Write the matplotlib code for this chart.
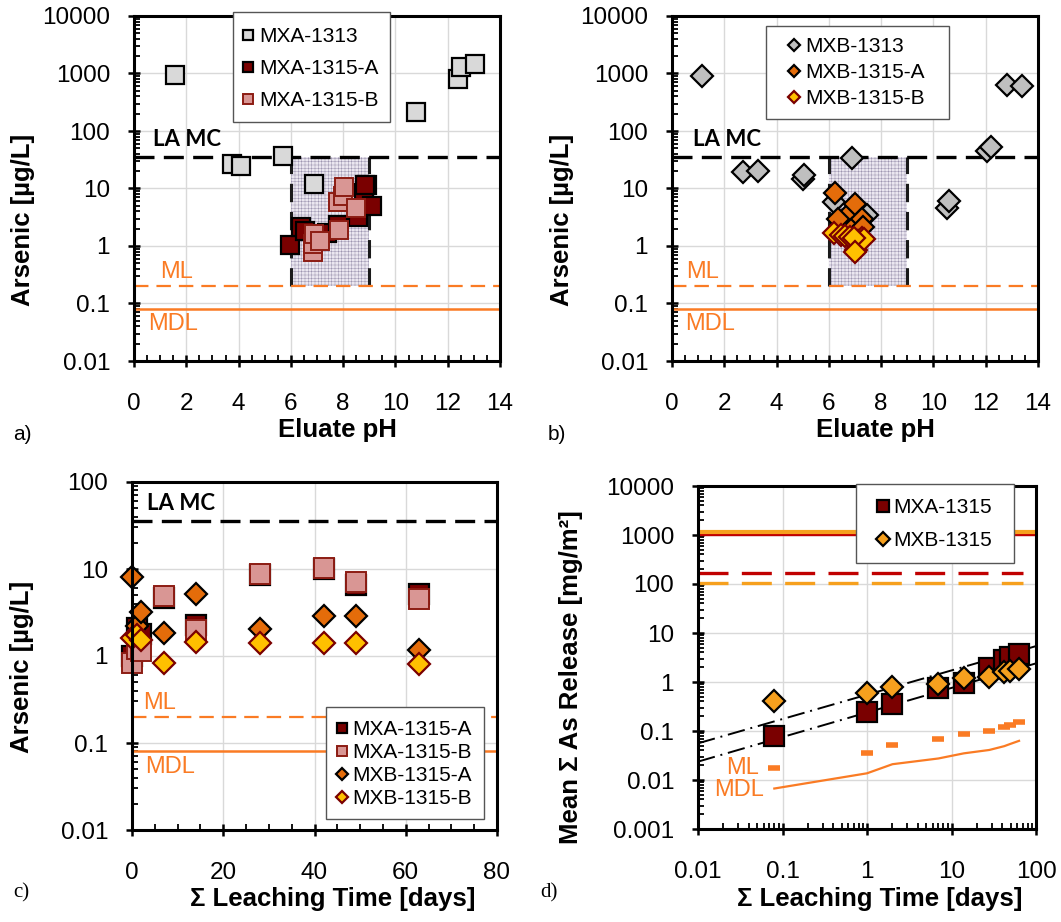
import matplotlib
matplotlib.use("Agg")
import matplotlib.pyplot as plt
import numpy as np
from matplotlib.patches import Rectangle
from matplotlib.ticker import LogLocator, MultipleLocator, FuncFormatter, NullFormatter

plt.rcParams['font.family'] = ['Liberation Sans', 'DejaVu Sans']
plt.rcParams['hatch.linewidth'] = 0.35

# ---------------- data ----------------
# a) MXA: eluate pH vs arsenic (LEAF 1313 and 1315)
mxa1313_ph = [1.55, 3.75, 4.1, 5.7, 6.9, 8.9, 10.8, 12.4, 12.5, 13.05]
mxa1313_as = [950, 27, 25, 37, 12, 11.5, 215, 790, 1300, 1450]
mxa1315a_ph = [5.95, 6.4, 6.55, 7.4, 7.8, 8.55, 8.8, 8.85, 9.1]
mxa1315a_as = [1.05, 2.1, 1.8, 1.7, 2.3, 3.2, 8.5, 11.5, 5.0]
mxa1315b_ph = [6.85, 6.85, 6.9, 7.1, 7.85, 7.8, 8.0, 8.05, 8.5]
mxa1315b_as = [0.8, 1.1, 1.6, 1.2, 1.9, 5.9, 7.3, 10.5, 4.5]

# b) MXB: eluate pH vs arsenic
mxb1313_ph = [1.15, 2.7, 3.3, 5.0, 5.05, 6.2, 6.9, 7.45, 10.5, 10.6, 12.05, 12.2, 12.8, 13.4]
mxb1313_as = [900, 19, 20.5, 14.5, 17.5, 5.8, 34, 3.5, 4.5, 6.0, 45, 52, 630, 610]
mxb1315a_ph = [6.25, 6.45, 6.7, 6.35, 7.0, 6.9, 7.25, 7.3, 7.1]
mxb1315a_as = [8.3, 2.2, 3.3, 2.9, 5.4, 2.0, 3.0, 2.1, 1.2]
mxb1315b_ph = [6.2, 6.45, 6.6, 7.05, 6.8, 7.25, 7.35, 6.95, 7.0]
mxb1315b_as = [1.65, 1.55, 1.5, 0.85, 1.45, 1.4, 1.3, 1.4, 0.8]

# c) arsenic vs cumulative leaching time (LEAF 1315)
leach_days = [0.08, 1, 2, 7, 14, 28, 42, 49, 63]
c_mxa_a = [1.0, 2.1, 1.8, 4.6, 2.3, 8.6, 10.0, 6.6, 5.2]
c_mxa_b = [0.82, 1.2, 1.15, 4.9, 2.0, 8.8, 10.2, 7.1, 4.5]
c_mxb_a = [8.1, 2.2, 3.2, 1.85, 5.1, 2.04, 2.9, 2.9, 1.17]
c_mxb_b = [1.6, 1.75, 1.53, 0.84, 1.46, 1.40, 1.40, 1.40, 0.81]

# d) mean cumulative release [mg/m2]
d_mxa = [0.08, 0.24, 0.36, 0.74, 0.94, 1.9, 2.8, 3.2, 3.7]
d_mxb = [0.41, 0.6, 0.8, 0.91, 1.19, 1.28, 1.6, 1.7, 1.8]
d_ml = [0.0174, 0.035, 0.052, 0.068, 0.086, 0.10, 0.122, 0.135, 0.153]
d_mdl = [0.0067, 0.0137, 0.021, 0.0275, 0.035, 0.041, 0.049, 0.054, 0.063]
# total available content (solid) and 1313 maximum release (dashed)
d_avail_mxa, d_avail_mxb = 1030, 1150
d_max_mxa, d_max_mxb = 165, 105
# power-law trend lines (endpoints at 0.01 and 100 days)
trend_days = [0.01, 100]
trend_mxb = [0.056, 5.4]
trend_mxa = [0.0237, 2.4]

# regulatory / analytical limits [ug/L]
LA_MC = 36
ML = 0.2
MDL = 0.08

# ---------------- styling ----------------
C_GRAY_A = '#d9d9d9'
C_GRAY_B = '#bfbfbf'
C_DRED = '#7a0000'
C_PINK = '#d99694'
C_PINK_EDGE = '#8c1c13'
C_ORANGE = '#e46c0a'
C_YELLOW = '#ffc000'
C_LIMIT = '#fa7b24'
C_D_ORANGE = '#f6a01e'
C_D_RED = '#c00000'

TICK_FS = 17.5
LABEL_FS = 18.5
LEG_FS = 15

W, H = 1061, 922
fig = plt.figure(figsize=(W / 100, H / 100), dpi=100)


def px_axes(l, t, r, b):
    return fig.add_axes([l / W, 1 - b / H, (r - l) / W, (b - t) / H])


ax_a = px_axes(134, 16, 500, 361)
ax_b = px_axes(672, 16, 1038, 361)
ax_c = px_axes(132, 482, 497, 830)
ax_d = px_axes(698, 486, 1036, 829)

plain = FuncFormatter(lambda v, p: f"{v:g}")


def style(ax, xlog=False):
    ax.set_yscale('log')
    if xlog:
        ax.set_xscale('log')
    for s in ax.spines.values():
        s.set_linewidth(2.2)
        s.set_color('black')
        s.set_zorder(6)
    ax.yaxis.set_major_locator(LogLocator(base=10, numticks=20))
    ax.yaxis.set_minor_locator(LogLocator(base=10, subs=np.arange(2, 10), numticks=100))
    ax.yaxis.set_major_formatter(plain)
    ax.yaxis.set_minor_formatter(NullFormatter())
    if xlog:
        ax.xaxis.set_major_locator(LogLocator(base=10, numticks=20))
        ax.xaxis.set_minor_locator(LogLocator(base=10, subs=np.arange(2, 10), numticks=100))
        ax.xaxis.set_major_formatter(plain)
        ax.xaxis.set_minor_formatter(NullFormatter())
    ax.tick_params(which='major', direction='inout', length=8.5, width=1.8, labelsize=TICK_FS)
    ax.tick_params(which='minor', direction='in', length=4, width=1.3)
    ax.tick_params(axis='x', which='major', pad=18.5)
    ax.tick_params(axis='y', which='major', pad=13)
    ax.grid(True, which='major', color='#d9d9d9', lw=1.0)
    ax.set_axisbelow(True)


def limit_lines(ax, xfrac_mc, xfrac_ml, xfrac_mdl):
    ax.axhline(LA_MC, color='black', lw=2.4, ls=(0, (6.0, 2.8)), zorder=2)
    ax.axhline(ML, color=C_LIMIT, lw=1.6, ls=(0, (6.5, 3.6)), zorder=2)
    ax.axhline(MDL, color=C_LIMIT, lw=1.8, zorder=2)
    ax.annotate('LA MC', xy=(xfrac_mc, LA_MC), xycoords=('axes fraction', 'data'),
                xytext=(0, 5), textcoords='offset points', va='bottom', ha='left',
                fontsize=16, fontweight='bold', family=['Lato', 'DejaVu Sans'])
    ax.annotate('ML', xy=(xfrac_ml, ML), xycoords=('axes fraction', 'data'),
                xytext=(0, 2), textcoords='offset points', va='bottom', ha='left',
                fontsize=17, color=C_LIMIT)
    ax.annotate('MDL', xy=(xfrac_mdl, MDL), xycoords=('axes fraction', 'data'),
                xytext=(0, -3), textcoords='offset points', va='top', ha='left',
                fontsize=17, color=C_LIMIT)


def neutral_box(ax):
    ax.add_patch(Rectangle((6, ML), 3, LA_MC - ML, facecolor='#ebe7f0',
                           edgecolor='#9d95b0', hatch='+++++', lw=0, zorder=1))
    for xv in (6, 9):
        ax.plot([xv, xv], [ML, LA_MC], color='#1a1a1a', lw=2.2,
                ls=(0, (6.0, 3.2)), zorder=2)


def framed_legend(ax, box, marker_x, row_mid_y, spacing, scale):
    """Legend entries placed by the marker centre; the frame is a fixed box."""
    l, t, r, b = box
    fig.add_artist(Rectangle((l / W, 1 - b / H), (r - l) / W, (b - t) / H,
                             transform=fig.transFigure, facecolor='white',
                             edgecolor='#555555', lw=1.0, zorder=8))
    hl = 0.8
    half = hl * LEG_FS * 100 / 72 / 2
    handles, labels = ax.get_legend_handles_labels()
    lg = fig.legend(handles, labels, loc='center left',
                    bbox_to_anchor=((marker_x - half) / W, 1 - row_mid_y / H),
                    bbox_transform=fig.transFigure, borderaxespad=0, borderpad=0,
                    fontsize=LEG_FS, markerscale=scale, labelspacing=spacing,
                    handlelength=hl, handletextpad=0.13, frameon=False)
    lg.set_zorder(9)
    return lg


def axis_labels(ax, xlabel, ylabel, xl_pos, yl_pos):
    ax.set_xlabel(xlabel, fontsize=LABEL_FS, fontweight='bold')
    ax.xaxis.set_label_coords(*xl_pos)
    ax.xaxis.label.set_va('top')
    ax.set_ylabel(ylabel, fontsize=LABEL_FS, fontweight='bold', va='center')
    ax.yaxis.set_label_coords(*yl_pos)


# ---------------- a) ----------------
style(ax_a)
ax_a.set_xlim(0, 14)
ax_a.set_ylim(0.01, 10000)
ax_a.xaxis.set_major_locator(MultipleLocator(2))
ax_a.xaxis.set_minor_locator(MultipleLocator(0.5))
neutral_box(ax_a)
limit_lines(ax_a, 0.052, 0.071, 0.038)
ax_a.plot(mxa1313_ph, mxa1313_as, 's', ms=13, mfc=C_GRAY_A, mec='black', mew=1.6,
          label='MXA-1313', zorder=4, clip_on=False)
ax_a.plot(mxa1315a_ph, mxa1315a_as, 's', ms=13, mfc=C_DRED, mec='black', mew=1.6,
          label='MXA-1315-A', zorder=4, clip_on=False)
ax_a.plot(mxa1315b_ph, mxa1315b_as, 's', ms=13, mfc=C_PINK, mec=C_PINK_EDGE, mew=1.4,
          label='MXA-1315-B', zorder=4, clip_on=False)
framed_legend(ax_a, (233, 12, 390, 122), 248, 68.5, 0.62, 0.58)
axis_labels(ax_a, 'Eluate pH', 'Arsenic [µg/L]', (0.555, -0.165), (-0.303, 0.41))

# ---------------- b) ----------------
style(ax_b)
ax_b.set_xlim(0, 14)
ax_b.set_ylim(0.01, 10000)
ax_b.xaxis.set_major_locator(MultipleLocator(2))
ax_b.xaxis.set_minor_locator(MultipleLocator(0.5))
neutral_box(ax_b)
limit_lines(ax_b, 0.057, 0.038, 0.036)
ax_b.plot(mxb1313_ph, mxb1313_as, 'D', ms=11.5, mfc=C_GRAY_B, mec='black', mew=1.6,
          label='MXB-1313', zorder=4, clip_on=False)
ax_b.plot(mxb1315a_ph, mxb1315a_as, 'D', ms=11.5, mfc=C_ORANGE, mec='black', mew=1.6,
          label='MXB-1315-A', zorder=4, clip_on=False)
ax_b.plot(mxb1315b_ph, mxb1315b_as, 'D', ms=11.5, mfc=C_YELLOW, mec='#7a0000', mew=1.6,
          label='MXB-1315-B', zorder=4, clip_on=False)
framed_legend(ax_b, (766, 26, 949, 119), 794, 72.7, 0.34, 0.55)
axis_labels(ax_b, 'Eluate pH', 'Arsenic [µg/L]', (0.555, -0.165), (-0.3, 0.41))

# ---------------- c) ----------------
style(ax_c)
ax_c.set_xlim(0, 80)
ax_c.set_ylim(0.01, 100)
ax_c.xaxis.set_major_locator(MultipleLocator(20))
ax_c.xaxis.set_minor_locator(MultipleLocator(5))
limit_lines(ax_c, 0.041, 0.03, 0.036)
ax_c.plot(leach_days, c_mxa_a, 's', ms=14, mfc=C_DRED, mec='black', mew=1.6,
          label='MXA-1315-A', zorder=4, clip_on=False)
ax_c.plot(leach_days, c_mxa_b, 's', ms=14, mfc=C_PINK, mec=C_PINK_EDGE, mew=1.4,
          label='MXA-1315-B', zorder=4, clip_on=False)
ax_c.plot(leach_days, c_mxb_a, 'D', ms=11, mfc=C_ORANGE, mec='black', mew=1.6,
          label='MXB-1315-A', zorder=4, clip_on=False)
ax_c.plot(leach_days, c_mxb_b, 'D', ms=11, mfc=C_YELLOW, mec='#7a0000', mew=1.6,
          label='MXB-1315-B', zorder=4, clip_on=False)
framed_legend(ax_c, (326, 707, 484, 819), 341.7, 764, 0.19, 0.55)
axis_labels(ax_c, 'Σ Leaching Time [days]', 'Arsenic [µg/L]', (0.551, -0.164), (-0.3, 0.47))

# ---------------- d) ----------------
style(ax_d, xlog=True)
ax_d.set_xlim(0.01, 100)
ax_d.set_ylim(0.001, 10000)
ax_d.axhline(d_avail_mxa, color=C_D_RED, lw=2.4, zorder=2)
ax_d.axhline(d_avail_mxb, color=C_D_ORANGE, lw=3.0, zorder=2)
ax_d.plot([0.01, 70], [d_max_mxa] * 2, color=C_D_RED, lw=2.4, ls=(0, (9, 4)), zorder=2)
ax_d.plot([0.01, 70], [d_max_mxb] * 2, color=C_D_ORANGE, lw=2.4, ls=(0, (9, 4)), zorder=2)
ax_d.plot(trend_days, trend_mxb, color='black', lw=1.4, ls=(0, (9, 3, 1, 3)), zorder=3)
ax_d.plot(trend_days, trend_mxa, color='black', lw=1.4, ls=(0, (9, 3, 1, 3)), zorder=3)
ax_d.plot(leach_days, d_ml, '_', ms=9, mew=4, color=C_LIMIT, ls='none', zorder=3)
ax_d.plot(leach_days, d_mdl, '-', lw=1.6, color=C_LIMIT, zorder=3)
ax_d.text(0.052, d_ml[0], 'ML', ha='right', va='center', fontsize=17, color=C_LIMIT)
ax_d.text(0.060, d_mdl[0] * 0.93, 'MDL', ha='right', va='center', fontsize=17, color=C_LIMIT)
ax_d.plot(leach_days, d_mxa, 's', ms=14, mfc=C_DRED, mec='black', mew=1.6,
          label='MXA-1315', zorder=4, clip_on=False)
ax_d.plot(leach_days, d_mxb, 'D', ms=11, mfc=C_D_ORANGE, mec='black', mew=1.6,
          label='MXB-1315', zorder=4, clip_on=False)
framed_legend(ax_d, (856, 484, 1014, 563), 882.7, 524, 0.67, 0.65)
axis_labels(ax_d, 'Σ Leaching Time [days]', 'Mean Σ As Release [mg/m²]',
            (0.537, -0.169), (-0.376, 0.443))

# panel tags
fig.text(13 / W, 1 - 434 / H, 'a)', fontsize=15, va='center', ha='left')
fig.text(548 / W, 1 - 434 / H, 'b)', fontsize=15, va='center', ha='left')
fig.text(13 / W, 1 - 893 / H, 'c)', fontsize=15, va='center', ha='left',
         family=['Liberation Serif', 'DejaVu Serif'])
fig.text(540 / W, 1 - 893 / H, 'd)', fontsize=15, va='center', ha='left',
         family=['Liberation Serif', 'DejaVu Serif'])

fig.savefig('out.png', dpi=100)
